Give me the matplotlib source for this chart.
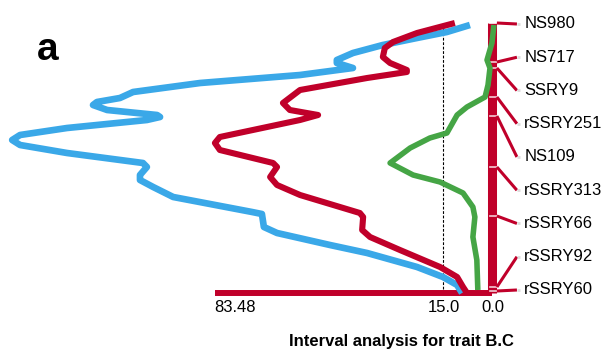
import matplotlib
matplotlib.use("Agg")
import matplotlib.pyplot as plt

plt.rcParams['font.family'] = ['Liberation Sans', 'DejaVu Sans']

# chromosome positions (cM, top = 0) and test statistic along the linkage group
blue_pos = [1, 4.5, 7.5, 11, 15, 18.5, 20, 22.5, 26, 30, 34.5, 37.5, 39.5, 41, 43.5, 46, 47, 48.5,
            52.5, 56, 58.5, 61, 65, 70, 72, 76, 78.5, 82, 87, 94.5, 95.5, 102, 105, 111, 115, 122,
            127, 131, 135]
blue_val = [6.7, 13.7, 22.8, 33.2, 42.3, 47.2, 47.2, 42.3, 58.4, 88.8, 109.2, 113.2, 120.2, 121.4,
            117.1, 101.9, 101.0, 105.0, 129.3, 143.6, 146.0, 143.6, 129.3, 106.2, 105.0, 107.1,
            107.1, 103.1, 97.0, 73.0, 70.0, 69.4, 65.4, 49.3, 38.0, 22.8, 14.9, 10.6, 9.1]

red_pos = [0, 5, 9.5, 12.5, 17, 20, 23.5, 24.5, 27.5, 33.5, 40, 43.5, 46, 48.5, 57, 60, 63.5, 70,
           72, 77, 81, 86, 95, 97, 103.5, 107, 113.5, 122, 127, 132, 135]
red_val = [11.3, 22.8, 30.1, 32.6, 33.2, 31.0, 25.9, 25.9, 38.0, 58.4, 63.6, 61.5, 52.9, 58.4,
           82.8, 84.3, 82.8, 66.6, 65.4, 67.5, 65.4, 58.4, 40.2, 39.2, 39.5, 37.1, 28.0, 15.8,
           10.6, 8.8, 7.6]

green_pos = [1, 10, 18.5, 22.5, 31, 37, 42, 46, 55, 57.5, 62.5, 70, 76, 79.5, 85, 92, 97, 107,
             118.5, 133.5]
green_val = [-0.6, 0.0, 1.5, 0.6, 1.2, 2.1, 7.6, 10.6, 13.7, 18.9, 24.9, 31.0, 24.0, 15.8, 8.8,
             5.8, 5.2, 5.8, 4.6, 4.3]

markers = ["NS980", "NS717", "SSRY9", "rSSRY251", "NS109", "rSSRY313", "rSSRY66", "rSSRY92", "rSSRY60"]
marker_pos = [0, 19.5, 22.5, 37, 46.5, 72, 96.5, 132, 134]

chrom_len = 135
x_max = 83.48
threshold = 15.0
tick_vals = [83.48, 15.0, 0.0]
tick_labels = ["83.48", "15.0", "0.0"]

RED = "#c0002a"
BLUE = "#3aa8e8"
GREEN = "#45a545"

fig = plt.figure(figsize=(6.05, 3.51), dpi=100)
ax = fig.add_axes([0, 0, 1, 1])
ax.set_xlim(149.7, -34.4)
ax.set_ylim(164, -11.5)
ax.axis('off')

# linkage group and value axis
ax.plot([0, 0], [0, chrom_len], color=RED, lw=6.5, solid_capstyle='butt', zorder=2)
ax.plot([x_max + 0.8, 0], [chrom_len, chrom_len], color=RED, lw=4.3, solid_capstyle='butt', zorder=2)
ax.plot([threshold, threshold], [0.5, chrom_len], color="black", lw=0.8,
        linestyle=(0, (2.5, 1.5)), zorder=1)

# curves
ax.plot(blue_val, blue_pos, color=BLUE, lw=4.8, solid_joinstyle='round', solid_capstyle='butt', zorder=4)
ax.plot(red_val, red_pos, color=RED, lw=4.4, solid_joinstyle='round', solid_capstyle='butt', zorder=4)
ax.plot(green_val, green_pos, color=GREEN, lw=4.0, solid_joinstyle='round', solid_capstyle='butt', zorder=5)

# marker labels with connectors
n = len(markers)
label_pos = [0.5 + i * (133.5 - 0.5) / (n - 1) for i in range(n)]
for name, mp, lp in zip(markers, marker_pos, label_pos):
    ax.plot([0.6, -1.4], [mp, mp], color="white", lw=1.2, alpha=0.8, zorder=3)
    ax.plot([-1.5, -7.6], [mp, lp], color=RED, lw=2.2, solid_capstyle='butt', zorder=3)
    ax.plot([-7.6, -8.6], [lp, lp], color="#dddddd", lw=2.0, solid_capstyle='butt', zorder=3)
    ax.text(-9.8, lp, name, fontsize=12, ha='left', va='center')

# value tick labels
ax.text(84.4, 142.5, tick_labels[0], fontsize=12, ha='left', va='center')
for v, t in zip(tick_vals[1:], tick_labels[1:]):
    ax.text(v - 0.4, 142.5, t, fontsize=12, ha='center', va='center')

ax.text(27.5, 159.5, "Interval analysis for trait B.C", fontsize=12, fontweight='bold',
        ha='center', va='center')
ax.text(135.2, 13.5, "a", fontsize=28, fontweight='bold', ha='center', va='center')

fig.savefig("out.png", dpi=100)
